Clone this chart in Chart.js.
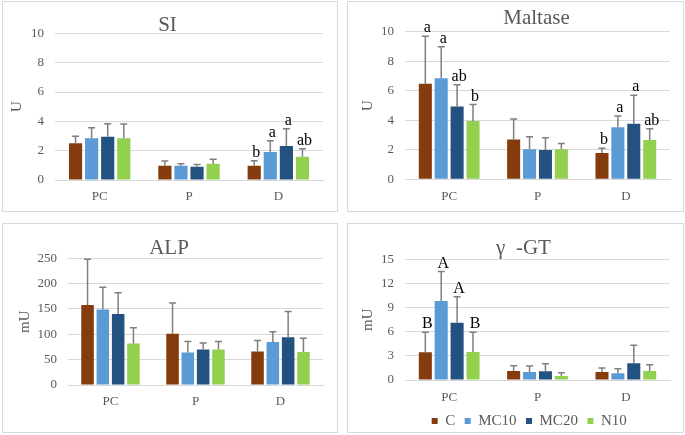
<!DOCTYPE html>
<html>
<head>
<meta charset="utf-8">
<script src="https://cdn.jsdelivr.net/npm/chart.js@4.4.1/dist/chart.umd.min.js"></script>
<style>
  body { margin: 0; background: #fff; width: 685px; height: 435px; position: relative; overflow: hidden; }
  canvas, .frame { position: absolute; }
  .frame { border: 1px solid #d9d9d9; box-sizing: border-box; pointer-events: none; }
</style>
</head>
<body>
<canvas id="c1" width="336" height="211" style="left:2px;top:1px"></canvas>
<canvas id="c2" width="337" height="211" style="left:347px;top:1px"></canvas>
<canvas id="c3" width="336" height="210" style="left:2px;top:223px"></canvas>
<canvas id="c4" width="337" height="210" style="left:347px;top:223px"></canvas>
<div class="frame" style="left:2px;top:1px;width:336px;height:211px"></div>
<div class="frame" style="left:347px;top:1px;width:337px;height:211px"></div>
<div class="frame" style="left:2px;top:223px;width:336px;height:210px"></div>
<div class="frame" style="left:347px;top:223px;width:337px;height:210px"></div>
<script>
// groups on the x axis and the four treatments
const categories = ['PC', 'P', 'D'];
const groups = ['C', 'MC10', 'MC20', 'N10'];
const colors = ['#843C0C', '#5B9BD5', '#235180', '#92D050'];

// rows follow groups (C, MC10, MC20, N10), columns follow categories
const siMean = [[2.50, 0.98, 0.98], [2.84, 0.98, 1.91], [2.95, 0.91, 2.32], [2.84, 1.11, 1.59]];
const siSd = [[0.48, 0.32, 0.34], [0.73, 0.13, 0.77], [0.89, 0.14, 1.18], [0.98, 0.30, 0.55]];
const siLetters = [['', '', 'b'], ['', '', 'a'], ['', '', 'a'], ['', '', 'ab']];

const malMean = [[6.48, 2.69, 1.78], [6.84, 2.03, 3.52], [4.94, 1.99, 3.77], [3.95, 2.03, 2.66]];
const malSd = [[3.22, 1.40, 0.32], [2.14, 0.86, 0.77], [1.47, 0.83, 1.92], [1.11, 0.39, 0.77]];
const malLetters = [['a', '', 'b'], ['a', '', 'a'], ['ab', '', 'a'], ['b', '', 'ab']];

const alpMean = [[158, 101, 66], [149, 64, 85], [140, 70, 94], [82, 70, 65]];
const alpSd = [[90, 61, 22], [44, 22, 20], [42, 13, 51], [31, 16, 27]];

const ggtMean = [[3.44, 1.12, 0.99], [9.82, 0.99, 0.83], [7.13, 1.08, 2.07], [3.48, 0.50, 1.12]];
const ggtSd = [[2.49, 0.66, 0.50], [3.65, 0.75, 0.58], [3.23, 0.95, 2.24], [2.45, 0.41, 0.79]];
const ggtLetters = [['B', '', ''], ['A', '', ''], ['A', '', ''], ['B', '', '']];

const serif = "'Liberation Serif', 'Times New Roman', serif";
const grey = '#595959';

// draws the upper half of the SD bar and the significance letters
const errorBars = {
  id: 'errorBars',
  afterDatasetsDraw(chart) {
    const ctx = chart.ctx;
    const y = chart.scales.y;
    ctx.save();
    chart.data.datasets.forEach((ds, i) => {
      chart.getDatasetMeta(i).data.forEach((bar, j) => {
        const top = y.getPixelForValue(ds.data[j] + ds.sd[j]);
        ctx.strokeStyle = '#7f7f7f';
        ctx.lineWidth = 1.5;
        ctx.beginPath();
        ctx.moveTo(bar.x, bar.y);
        ctx.lineTo(bar.x, top);
        ctx.moveTo(bar.x - 3.5, top);
        ctx.lineTo(bar.x + 3.5, top);
        ctx.stroke();
        const t = ds.letters ? ds.letters[j] : '';
        if (t) {
          ctx.fillStyle = '#000';
          ctx.font = '16px ' + serif;
          ctx.textAlign = 'center';
          ctx.textBaseline = 'alphabetic';
          ctx.fillText(t, bar.x + 2, top - 4);
        }
      });
    });
    ctx.restore();
  }
};

// titles and the legend are not centred on the canvas in the original
const nudge = {
  id: 'nudge',
  afterLayout(chart, args, opts) {
    const tb = chart.titleBlock;
    if (tb && opts.titleDx) { tb.left += opts.titleDx; tb.right += opts.titleDx; }
    const lg = chart.legend;
    if (lg && opts.legendDx) {
      lg.left += opts.legendDx; lg.right += opts.legendDx;
      lg.top += opts.legendDy; lg.bottom += opts.legendDy;
    }
  }
};

function makeChart(id, p) {
  const datasets = groups.map((g, i) => ({
    label: g,
    data: p.mean[i],
    sd: p.sd[i],
    letters: p.letters ? p.letters[i] : null,
    backgroundColor: colors[i],
    categoryPercentage: 0.72,
    barPercentage: 0.82
  }));
  return new Chart(document.getElementById(id), {
    type: 'bar',
    data: { labels: categories, datasets: datasets },
    plugins: [errorBars, nudge],
    options: {
      responsive: false,
      animation: false,
      devicePixelRatio: 1,
      layout: { padding: { left: 0, right: p.right, top: 0, bottom: p.bottom || 0 } },
      plugins: {
        title: {
          display: true, text: p.title, color: grey,
          font: { family: serif, size: 21, weight: 'normal', lineHeight: 0.9 },
          padding: { top: p.tTop, bottom: p.tBottom }
        },
        legend: {
          display: !!p.legend, position: 'bottom',
          labels: { color: grey, font: { family: serif, size: 15 }, boxWidth: 6, boxHeight: 6, padding: 9.5 }
        },
        nudge: { titleDx: p.tDx || 0, legendDx: p.lgDx || 0, legendDy: p.lgDy || 0 },
        tooltip: { enabled: false }
      },
      scales: {
        x: {
          grid: { display: false, drawTicks: false },
          border: { color: '#d9d9d9' },
          ticks: { color: grey, font: { family: serif, size: 13 }, padding: p.xPad },
          afterFit: s => { s.height = p.xH; }
        },
        y: {
          min: 0, max: p.max,
          ticks: { stepSize: p.step, color: grey, font: { family: serif, size: 13 }, padding: 11 },
          grid: { color: '#d9d9d9', drawTicks: false },
          border: { display: false },
          title: {
            display: true, text: p.unit, color: grey,
            font: { family: serif, size: 15 }, padding: { top: p.uPad, bottom: 0 }
          },
          afterFit: s => { s.width = p.yW; }
        }
      }
    }
  });
}

makeChart('c1', { title: 'SI', unit: 'U', mean: siMean, sd: siSd, letters: siLetters,
  max: 10, step: 2, yW: 53, right: 15, xH: 32, xPad: 8.5, tTop: 15.5, tBottom: -2, tDx: 5, uPad: 6.5 });
makeChart('c2', { title: 'Maltase', unit: 'U', mean: malMean, sd: malSd, letters: malLetters,
  max: 10, step: 2, yW: 58, right: 14, xH: 32.7, xPad: 9, tTop: 8.5, tBottom: 3.3, tDx: 28, uPad: 12.5 });
makeChart('c3', { title: 'ALP', unit: 'mU', mean: alpMean, sd: alpSd,
  max: 250, step: 50, yW: 66, right: 15, xH: 48, xPad: 9, tTop: 16.3, tBottom: 0.1, tDx: 6.5, uPad: 14 });
makeChart('c4', { title: 'γ  -GT', unit: 'mU', mean: ggtMean, sd: ggtSd, letters: ggtLetters, legend: true,
  max: 15, step: 3, yW: 58, right: 14, xH: 27, xPad: 9.5, tTop: 16.3, tBottom: 1.1, tDx: 15, uPad: 12.5,
  bottom: -8.5, lgDx: 20.7, lgDy: -3 });
</script>
</body>
</html>
